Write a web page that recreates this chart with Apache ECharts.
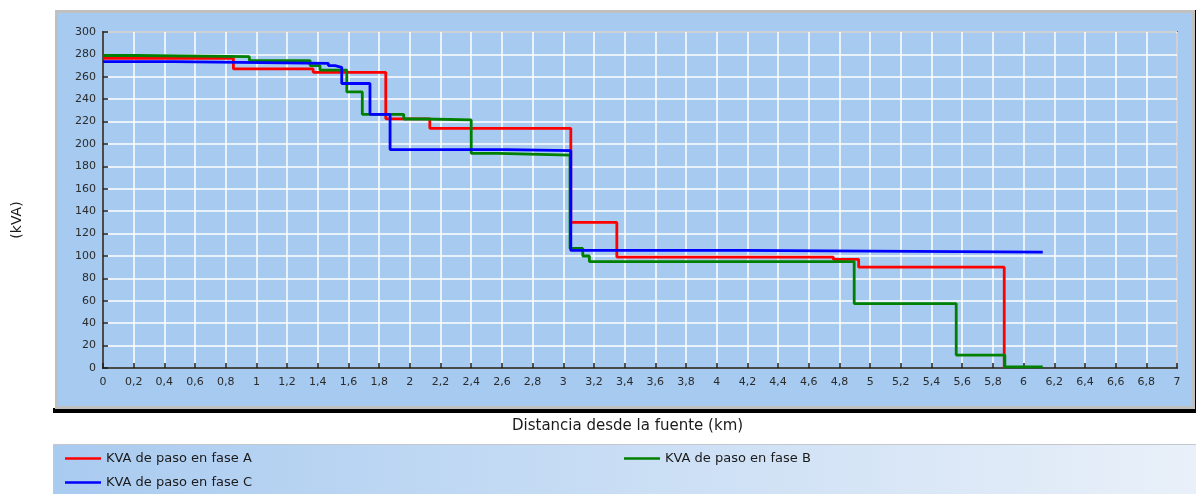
<!DOCTYPE html>
<html>
<head>
<meta charset="utf-8">
<script src="https://cdn.jsdelivr.net/npm/echarts@6/dist/echarts.min.js"></script>
<style>
  html, body { margin: 0; padding: 0; background: #ffffff; }
  #chart { width: 1196px; height: 494px; }
</style>
</head>
<body>
<div id="chart"></div>
<script>
// Through-power per phase along the feeder: [distance km, kVA] where each step starts
const phaseA = [[0, 276.5], [0.85, 267], [1.37, 264], [1.843, 222.5], [2.13, 214], [3.049, 130],
  [3.349, 99], [4.76, 97], [4.925, 90], [5.874, 0]];
const phaseB = [[0, 279], [0.22, 278], [0.954, 274.5], [1.35, 270], [1.414, 266], [1.589, 246.5],
  [1.69, 226.5], [1.96, 222.3], [2.1, 221.5], [2.4, 191.7], [2.577, 190], [3.044, 106.8],
  [3.127, 100], [3.17, 95], [4.896, 57.5], [5.561, 11.5], [5.878, 1], [6.125, 1]];
const phaseC = [[0, 273.5], [0.458, 272], [1.469, 270], [1.512, 268.5], [1.556, 254], [1.74, 226.5],
  [1.871, 195], [2.627, 194], [3.049, 105], [4.17, 103.5], [6.125, 103.5]];

const seriesNames = ['KVA de paso en fase A', 'KVA de paso en fase B', 'KVA de paso en fase C'];
const seriesColors = ['#ff0000', '#008000', '#0000ff'];
const xTitle = 'Distancia desde la fuente (km)';
const yTitle = '(kVA)';

const FONT = 'DejaVu Sans';
const chart = echarts.init(document.getElementById('chart'), null, { renderer: 'canvas' });

const tickFont = { fontFamily: FONT, fontSize: 11, color: '#2b2b2b' };

function makeSeries(name, data, color) {
  return {
    name: name,
    type: 'line',
    step: 'end',
    data: data,
    symbol: 'none',
    animation: false,
    lineStyle: { color: color, width: 2.8 },
    itemStyle: { color: color }
  };
}

// one single-item legend per slot of the legend panel
function legendSlot(name, left, top) {
  return {
    data: [name],
    left: left, top: top, padding: 0,
    icon: 'rect', itemWidth: 36, itemHeight: 2.5, itemGap: 0,
    textStyle: { fontFamily: FONT, fontSize: 13, color: '#1a1a1a' }
  };
}

chart.setOption({
  animation: false,
  backgroundColor: '#ffffff',
  graphic: [
    // chart panel: dark shadow bottom/right, grey frame, sky-blue fill
    { type: 'rect', z: -20, shape: { x: 53, y: 408, width: 1143, height: 5 }, style: { fill: '#000000' } },
    { type: 'rect', z: -20, shape: { x: 1194, y: 10, width: 2, height: 403 }, style: { fill: '#000000' } },
    { type: 'rect', z: -19, shape: { x: 55, y: 10, width: 1140, height: 399 }, style: { fill: '#c0c0c0' } },
    { type: 'rect', z: -18, shape: { x: 58, y: 13, width: 1134, height: 393 }, style: { fill: '#a6caf0' } },
    // legend panel
    {
      type: 'rect', z: -20, shape: { x: 53.5, y: 444.5, width: 1145, height: 52 },
      style: {
        fill: new echarts.graphic.LinearGradient(0, 0, 1, 0, [
          { offset: 0, color: '#a9cbf0' },
          { offset: 1, color: '#e9f0f9' }
        ]),
        stroke: '#c4c8cc', lineWidth: 1
      }
    },
    {
      type: 'text', left: 512, top: 419,
      style: { text: xTitle, fontFamily: FONT, fontSize: 15, fill: '#1a1a1a' }
    },
    {
      type: 'text', x: 10, y: 220, rotation: Math.PI / 2,
      style: { text: yTitle, fontFamily: FONT, fontSize: 14, fill: '#1a1a1a',
        align: 'center', verticalAlign: 'top' }
    }
  ],
  grid: {
    left: 103, top: 32, right: 19, bottom: 126,
    show: true, backgroundColor: 'transparent', borderColor: '#1e1e1e', borderWidth: 1.5
  },
  legend: [
    legendSlot(seriesNames[0], 65, 452),
    legendSlot(seriesNames[2], 65, 476),
    legendSlot(seriesNames[1], 624, 452)
  ],
  xAxis: {
    type: 'value', min: 0, max: 7, interval: 0.2,
    axisLine: { show: true, onZero: false, lineStyle: { color: '#1e1e1e', width: 1.5 } },
    axisTick: { show: true, inside: true, length: 5, lineStyle: { color: '#1e1e1e', width: 1.5 } },
    axisLabel: {
      ...tickFont, margin: 9,
      formatter: v => String(Math.round(v * 10) / 10).replace('.', ',')
    },
    splitLine: { show: true, lineStyle: { color: '#ffffff', width: 1.5 } }
  },
  yAxis: {
    type: 'value', min: 0, max: 300, interval: 20,
    axisLine: { show: true, lineStyle: { color: '#1e1e1e', width: 1.5 } },
    axisTick: { show: true, inside: true, length: 5, lineStyle: { color: '#1e1e1e', width: 1.5 } },
    axisLabel: { ...tickFont, margin: 7 },
    splitLine: { show: true, lineStyle: { color: '#ffffff', width: 1.5 } }
  },
  series: [
    makeSeries(seriesNames[0], phaseA, seriesColors[0]),
    makeSeries(seriesNames[1], phaseB, seriesColors[1]),
    makeSeries(seriesNames[2], phaseC, seriesColors[2])
  ]
});
</script>
</body>
</html>
